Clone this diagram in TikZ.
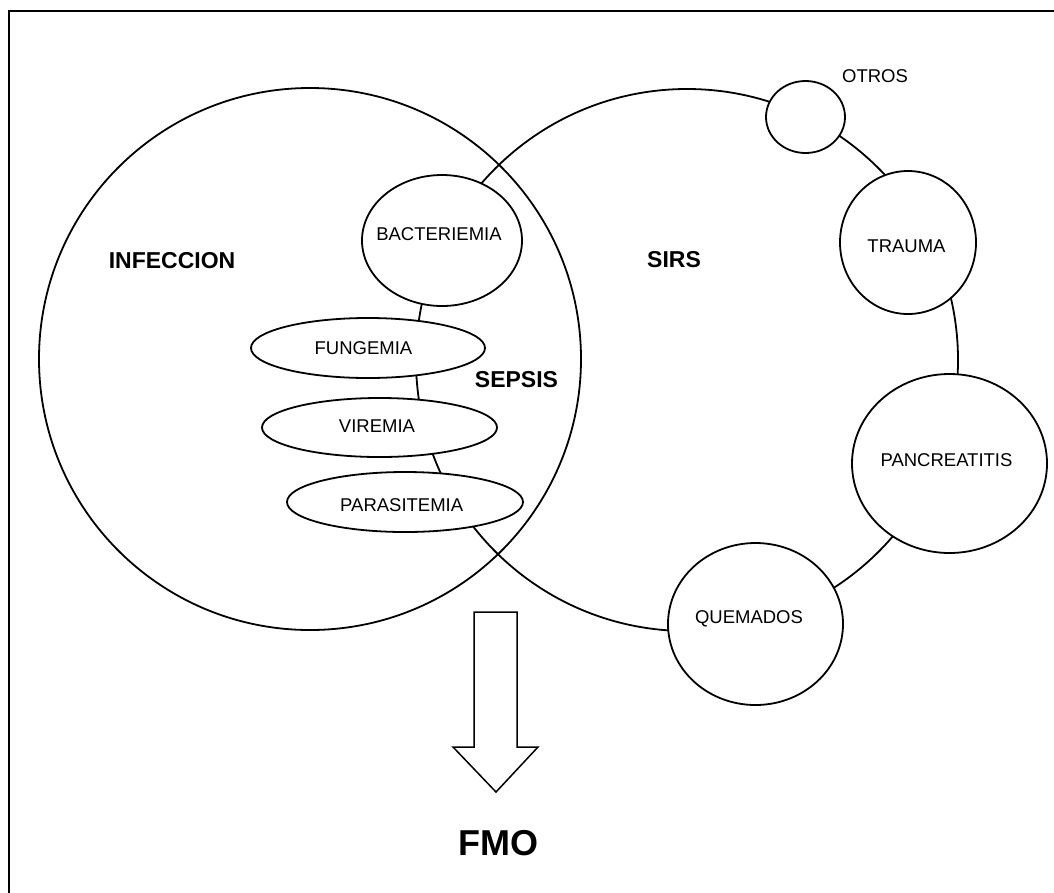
\documentclass[tikz,border=0pt]{standalone}
\usepackage{fontspec}
\setmainfont{Liberation Sans}
\usetikzlibrary{shapes.geometric}

\begin{document}
\begin{tikzpicture}[x=1pt,y=-1pt,
  ring/.style={draw, line width=1.8pt, circle, inner sep=0pt, minimum size=542pt},
  blob/.style={draw, line width=1.8pt, ellipse, fill=white, inner sep=0pt},
  small/.style={font=\fontsize{18.5}{20}\selectfont, inner sep=0pt},
  big/.style={font=\bfseries\fontsize{23}{26}\selectfont, inner sep=0pt}]

\useasboundingbox (0,0) rectangle (1054,892);
\clip (0,0) rectangle (1054,892);

% page frame (runs off the right and bottom edges)
\draw[line width=2.3pt] (9,11) rectangle (1080,920);

% the two overlapping sets
\node[ring] (infeccion) at (310,359) {};
\node[ring] (sirs) at (687,360) {};

% causes sitting on the SIRS ring
\node[blob, minimum width=160pt, minimum height=131pt] (bact) at (442,240.5) {};
\node[blob, minimum width=79pt,  minimum height=72pt]  (otros) at (805.5,117) {};
\node[blob, minimum width=136pt, minimum height=143pt] (trauma) at (908,242.5) {};
\node[blob, minimum width=195pt, minimum height=179pt] (pancreas) at (949.5,463.5) {};
\node[blob, minimum width=175pt, minimum height=162pt] (quemados) at (755.5,624) {};
\node[blob, minimum width=234pt, minimum height=60pt]  (fungemia) at (368,348) {};
\node[blob, minimum width=235pt, minimum height=59pt]  (viremia) at (379.5,427.5) {};
\node[blob, minimum width=236pt, minimum height=60pt]  (parasit) at (405,502) {};

% labels
\node[small] (tbact) at (439,234.5) {BACTERIEMIA};
\node[small] (totros) at (875,76.5) {OTROS};
\node[small] (ttrauma) at (906.5,246) {TRAUMA};
\node[small] (tpancreas) at (946.5,460) {PANCREATITIS};
\node[small] (tquemados) at (749,618.5) {QUEMADOS};
\node[small] (tfungemia) at (363.5,347.7) {FUNGEMIA};
\node[small] (tviremia) at (377,426.3) {VIREMIA};
\node[small] (tparasit) at (401.7,505.3) {PARASITEMIA};

\node[big] (tinfeccion) at (172,261) {INFECCION};
\node[big] (tsirs) at (674,260) {SIRS};
\node[big] (tsepsis) at (516.5,380) {SEPSIS};

% block arrow down to the outcome
\draw[line width=1.5pt, fill=white]
  (474,612) -- (517,612) -- (517,747) -- (538,747) -- (496,792)
  -- (453,747) -- (474,747) -- cycle;
\node[font=\bfseries\fontsize{36}{40}\selectfont, inner sep=0pt] (fmo) at (498,843) {FMO};

\end{tikzpicture}
\end{document}
